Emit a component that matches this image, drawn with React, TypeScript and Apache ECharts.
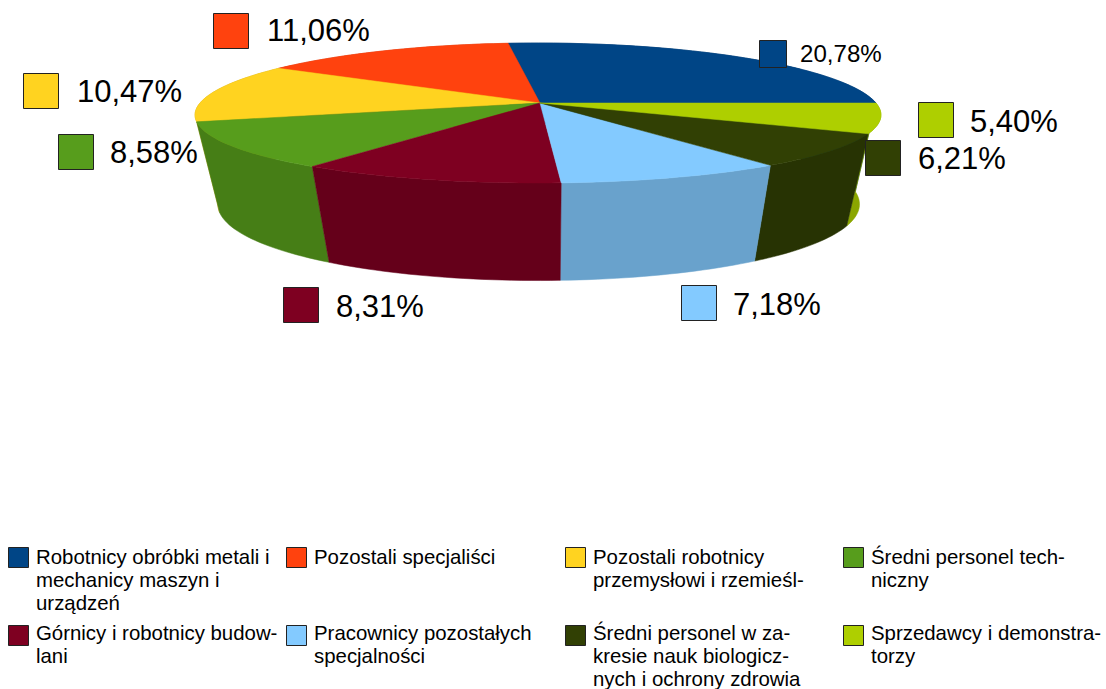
import React, { useEffect, useRef } from "react";
import * as echarts from "echarts";

const categories = [
  ["Robotnicy obróbki metali i", "mechanicy maszyn i", "urządzeń"],
  ["Pozostali specjaliści"],
  ["Pozostali robotnicy", "przemysłowi i rzemieśl-"],
  ["Średni personel tech-", "niczny"],
  ["Górnicy i robotnicy budow-", "lani"],
  ["Pracownicy pozostałych", "specjalności"],
  ["Średni personel w za-", "kresie nauk biologicz-", "nych i ochrony zdrowia"],
  ["Sprzedawcy i demonstra-", "torzy"],
];
const values = [20.78, 11.06, 10.47, 8.58, 8.31, 7.18, 6.21, 5.4];
const colors = ["#004586", "#ff420e", "#ffd320", "#579d1c", "#7e0021", "#83caff", "#314004", "#aecf00"];
const wallColors = ["#00386b", "#cc350b", "#cca91a", "#467e16", "#65001a", "#69a2cc", "#273303", "#8ba600"];

// label layout: swatch x, swatch y, swatch size, text x, text y, font size
const labelLayout = [
  [759.5, 40.5, 27, 800, 53, 24.1],
  [213.5, 13.5, 35, 267, 30, 31],
  [23.5, 73.5, 35, 77, 91, 31],
  [58.5, 134.5, 35, 110, 152, 31],
  [283.5, 287.5, 35, 336, 306, 31],
  [681.5, 285.5, 35, 733, 304, 31],
  [865.5, 140.5, 35, 918, 158, 31],
  [918.5, 102.5, 35, 970, 121, 31],
];
const legendColumns = [8.5, 286.5, 565.5, 843.5];
const legendRows = [547.5, 625.5];
const legendTextRows = [557, 632.5];

const W = 1106;
const H = 689;
const START_DEG = 0;
const total = values.reduce((a, b) => a + b, 0);

const slices = (() => {
  let cursor = START_DEG;
  return values.map((v) => {
    const a0 = cursor;
    const a1 = cursor + (v / total) * 360;
    cursor = a1;
    return [a0, a1];
  });
})();

// Perspective projection of the disc
const APEX_X = 540, CX = 538, CY = 103, FX = 338, FY = 68.57, KX = 0.17, KY = 1 / 7;
const VPX = 548, VPY = 1510, DEPTH = 0.063;

function topPoint(deg: number) {
  const t = (deg * Math.PI) / 180;
  const X = Math.cos(t), Y = Math.sin(t);
  const d = 1 + KY * Y;
  return [CX + (FX * X) / (1 + KX * Y), CY - (FY * Y) / d, d];
}
function bottomPoint(deg: number) {
  const [x, y, d] = topPoint(deg);
  const a = DEPTH / d;
  return [x + (VPX - x) * a, y + (VPY - y) * a];
}
function arc(a0: number, a1: number, fn: (d: number) => number[]) {
  const n = Math.max(2, Math.ceil(Math.abs(a1 - a0) / 1.5));
  const pts: number[][] = [];
  for (let i = 0; i <= n; i++) {
    const p = fn(a0 + ((a1 - a0) * i) / n);
    pts.push([p[0], p[1]]);
  }
  return pts;
}

const wallOrder = values
  .map((_, i) => i)
  .sort((p, q) => {
    const mid = (i: number) => ((slices[i][0] + slices[i][1]) / 2 * Math.PI) / 180;
    return Math.sin(mid(q)) - Math.sin(mid(p));
  });

const fmt = (v: number) => v.toFixed(2).replace(".", ",") + "%";

export default function App() {
  const ref = useRef<HTMLDivElement>(null);
  useEffect(() => {
    document.body.style.margin = "0";
    const chart = echarts.init(ref.current!, undefined, { renderer: "svg" });
    const graphics: any[] = [];
    const font = "Liberation Sans";
    values.forEach((v, i) => {
      const [sx, sy, size, tx, ty, fs] = labelLayout[i];
      graphics.push({
        type: "rect", silent: true, z: 10,
        shape: { x: sx, y: sy, width: size, height: size },
        style: { fill: colors[i], stroke: "#222", lineWidth: 1 },
      });
      graphics.push({
        type: "text", silent: true, z: 10, x: tx, y: ty,
        style: { text: fmt(v), fontFamily: font, fontSize: fs, fill: "#000", verticalAlign: "middle" },
      });
    });
    categories.forEach((lines, i) => {
      const col = i % 4;
      const row = Math.floor(i / 4);
      const sx = legendColumns[col];
      const sy = legendRows[row];
      graphics.push({
        type: "rect", silent: true, z: 10,
        shape: { x: sx, y: sy, width: 20, height: 20 },
        style: { fill: colors[i], stroke: "#222", lineWidth: 1 },
      });
      lines.forEach((line, j) => {
        graphics.push({
          type: "text", silent: true, z: 10, x: sx + 27.5, y: legendTextRows[row] + j * 23.2,
          style: { text: line, fontFamily: font, fontSize: 20.4, fill: "#000", verticalAlign: "middle" },
        });
      });
    });

    chart.setOption({
      animation: false,
      backgroundColor: "#fff",
      tooltip: { show: false },
      graphic: graphics,
      series: [
        {
          type: "custom",
          coordinateSystem: "none",
          silent: true,
          z: 1,
          data: wallOrder.map((i) => [values[i], i]),
          renderItem: (_: any, api: any) => {
            const i = api.value(1);
            const [a0, a1] = slices[i];
            const points = [...arc(a0, a1, topPoint), ...arc(a1, a0, bottomPoint)];
            return {
              type: "polygon",
              shape: { points },
              style: { fill: wallColors[i], stroke: wallColors[i], lineWidth: 0.5 },
            };
          },
        },
        {
          type: "custom",
          coordinateSystem: "none",
          silent: true,
          z: 2,
          data: values.map((v, i) => [v, i]),
          renderItem: (_: any, api: any) => {
            const i = api.value(1);
            const [a0, a1] = slices[i];
            const points = [[APEX_X, CY], ...arc(a0, a1, topPoint)];
            return {
              type: "polygon",
              shape: { points },
              style: { fill: colors[i], stroke: colors[i], lineWidth: 0.5 },
            };
          },
        },
      ],
    });
    return () => chart.dispose();
  }, []);
  return <div ref={ref} style={{ width: W, height: H }} />;
}
